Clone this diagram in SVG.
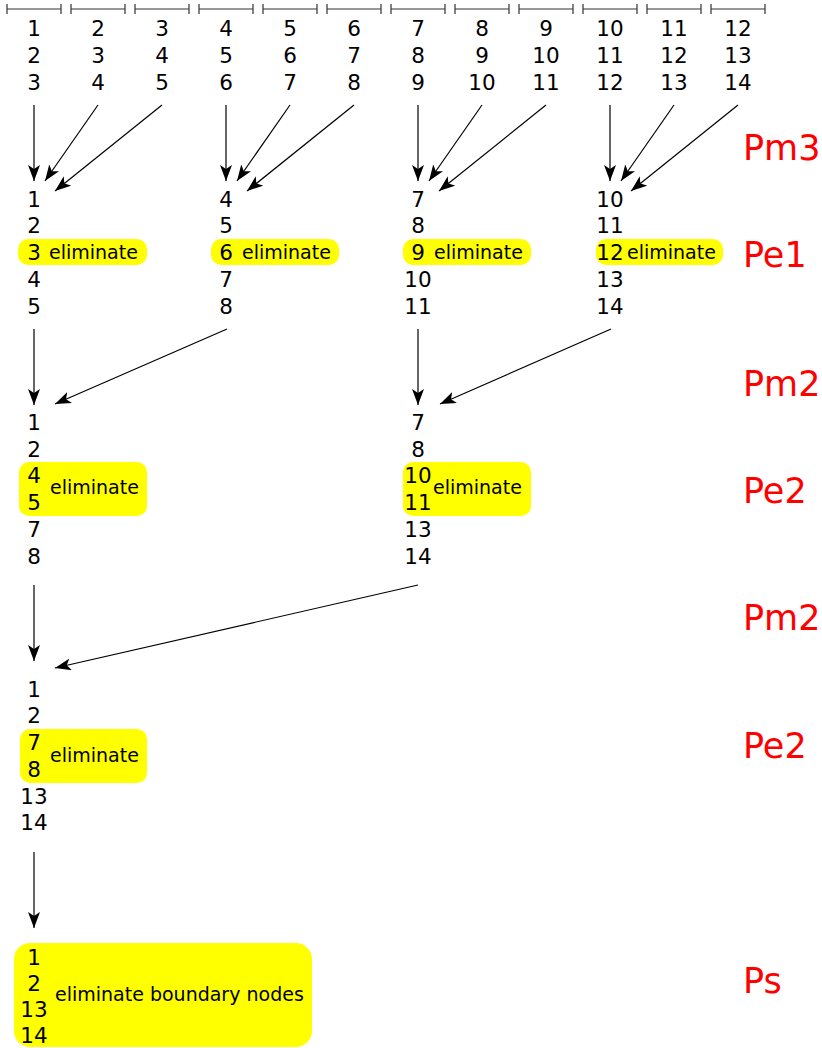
<svg xmlns="http://www.w3.org/2000/svg" width="822" height="1048" viewBox="0 0 822 1048">
<defs>
<style>
text{font-family:"DejaVu Sans","Verdana",sans-serif;fill:#000}
.n{font-size:21.5px;text-anchor:middle}
.e{font-size:19px}
.lab{font-size:35px;fill:#ff0000}
.hl{fill:#ffff00}
.iv{stroke:#333;stroke-width:1.2;fill:none}
.ar{stroke:#000;stroke-width:1.2;fill:none;marker-end:url(#ah)}
</style>
<marker id="ah" viewBox="0 0 16 12" refX="16" refY="6" markerWidth="16" markerHeight="12" markerUnits="userSpaceOnUse" orient="auto">
<path d="M0,0 L16,6 L0,12 L4,6 Z" fill="#000"/>
</marker>
</defs>
<rect width="822" height="1048" fill="#fff"/>

<g id="intervals">
<path class="iv" d="M7,9H61M7,4V14M61,4V14"/>
<path class="iv" d="M71,9H125M71,4V14M125,4V14"/>
<path class="iv" d="M135,9H189M135,4V14M189,4V14"/>
<path class="iv" d="M199,9H253M199,4V14M253,4V14"/>
<path class="iv" d="M263,9H317M263,4V14M317,4V14"/>
<path class="iv" d="M327,9H381M327,4V14M381,4V14"/>
<path class="iv" d="M391,9H445M391,4V14M445,4V14"/>
<path class="iv" d="M455,9H509M455,4V14M509,4V14"/>
<path class="iv" d="M519,9H573M519,4V14M573,4V14"/>
<path class="iv" d="M583,9H637M583,4V14M637,4V14"/>
<path class="iv" d="M647,9H701M647,4V14M701,4V14"/>
<path class="iv" d="M711,9H765M711,4V14M765,4V14"/>
</g>

<g id="top-columns">
<g id="col1"><text class="n" x="34" y="36">1</text><text class="n" x="34" y="63">2</text><text class="n" x="34" y="90">3</text></g>
<g id="col2"><text class="n" x="98" y="36">2</text><text class="n" x="98" y="63">3</text><text class="n" x="98" y="90">4</text></g>
<g id="col3"><text class="n" x="162" y="36">3</text><text class="n" x="162" y="63">4</text><text class="n" x="162" y="90">5</text></g>
<g id="col4"><text class="n" x="226" y="36">4</text><text class="n" x="226" y="63">5</text><text class="n" x="226" y="90">6</text></g>
<g id="col5"><text class="n" x="290" y="36">5</text><text class="n" x="290" y="63">6</text><text class="n" x="290" y="90">7</text></g>
<g id="col6"><text class="n" x="354" y="36">6</text><text class="n" x="354" y="63">7</text><text class="n" x="354" y="90">8</text></g>
<g id="col7"><text class="n" x="418" y="36">7</text><text class="n" x="418" y="63">8</text><text class="n" x="418" y="90">9</text></g>
<g id="col8"><text class="n" x="482" y="36">8</text><text class="n" x="482" y="63">9</text><text class="n" x="482" y="90">10</text></g>
<g id="col9"><text class="n" x="546" y="36">9</text><text class="n" x="546" y="63">10</text><text class="n" x="546" y="90">11</text></g>
<g id="col10"><text class="n" x="610" y="36">10</text><text class="n" x="610" y="63">11</text><text class="n" x="610" y="90">12</text></g>
<g id="col11"><text class="n" x="674" y="36">11</text><text class="n" x="674" y="63">12</text><text class="n" x="674" y="90">13</text></g>
<g id="col12"><text class="n" x="738" y="36">12</text><text class="n" x="738" y="63">13</text><text class="n" x="738" y="90">14</text></g>
</g>

<g id="connectors">
<line class="ar" x1="34" y1="105" x2="34" y2="181"/>
<line class="ar" x1="98" y1="105" x2="45" y2="181"/>
<line class="ar" x1="162" y1="105" x2="55" y2="191"/>
<line class="ar" x1="226" y1="105" x2="226" y2="181"/>
<line class="ar" x1="290" y1="105" x2="237" y2="181"/>
<line class="ar" x1="354" y1="105" x2="247" y2="191"/>
<line class="ar" x1="418" y1="105" x2="418" y2="181"/>
<line class="ar" x1="482" y1="105" x2="429" y2="181"/>
<line class="ar" x1="546" y1="105" x2="439" y2="191"/>
<line class="ar" x1="610" y1="105" x2="610" y2="181"/>
<line class="ar" x1="674" y1="105" x2="621" y2="181"/>
<line class="ar" x1="738" y1="105" x2="631" y2="191"/>
<line class="ar" x1="34" y1="329" x2="34" y2="405"/>
<line class="ar" x1="227" y1="329" x2="55" y2="404"/>
<line class="ar" x1="418" y1="329" x2="418" y2="405"/>
<line class="ar" x1="611" y1="329" x2="440" y2="404"/>
<line class="ar" x1="34" y1="585" x2="34" y2="661"/>
<line class="ar" x1="418" y1="585" x2="55" y2="668"/>
<line class="ar" x1="34" y1="852" x2="34" y2="928"/>
</g>

<g id="pe1-list1">
<rect class="hl" x="18" y="239" width="129" height="26" rx="10"/>
<text class="n" x="34" y="207">1</text><text class="n" x="34" y="233">2</text><text class="n" x="34" y="260">3</text><text class="n" x="34" y="287">4</text><text class="n" x="34" y="314">5</text>
<text class="e" x="49" y="259">eliminate</text>
</g>
<g id="pe1-list2">
<rect class="hl" x="211" y="239" width="128" height="26" rx="10"/>
<text class="n" x="226" y="207">4</text><text class="n" x="226" y="233">5</text><text class="n" x="226" y="260">6</text><text class="n" x="226" y="287">7</text><text class="n" x="226" y="314">8</text>
<text class="e" x="242" y="259">eliminate</text>
</g>
<g id="pe1-list3">
<rect class="hl" x="403" y="239" width="128" height="26" rx="10"/>
<text class="n" x="418" y="207">7</text><text class="n" x="418" y="233">8</text><text class="n" x="418" y="260">9</text><text class="n" x="418" y="287">10</text><text class="n" x="418" y="314">11</text>
<text class="e" x="434" y="259">eliminate</text>
</g>
<g id="pe1-list4">
<rect class="hl" x="596" y="239" width="127" height="26" rx="10"/>
<text class="n" x="610" y="207">10</text><text class="n" x="610" y="233">11</text><text class="n" x="610" y="260">12</text><text class="n" x="610" y="287">13</text><text class="n" x="610" y="314">14</text>
<text class="e" x="627" y="259">eliminate</text>
</g>

<g id="pe2-list1">
<rect class="hl" x="19" y="462" width="128" height="54" rx="10"/>
<text class="n" x="34" y="430">1</text><text class="n" x="34" y="457">2</text><text class="n" x="34" y="483">4</text><text class="n" x="34" y="510">5</text><text class="n" x="34" y="537">7</text><text class="n" x="34" y="564">8</text>
<text class="e" x="50" y="494">eliminate</text>
</g>
<g id="pe2-list2">
<rect class="hl" x="403" y="462" width="128" height="54" rx="10"/>
<text class="n" x="418" y="430">7</text><text class="n" x="418" y="457">8</text><text class="n" x="418" y="483">10</text><text class="n" x="418" y="510">11</text><text class="n" x="418" y="537">13</text><text class="n" x="418" y="564">14</text>
<text class="e" x="433" y="494">eliminate</text>
</g>

<g id="pe2b-list">
<rect class="hl" x="20" y="729" width="127" height="54" rx="10"/>
<text class="n" x="34" y="697">1</text><text class="n" x="34" y="723">2</text><text class="n" x="34" y="750">7</text><text class="n" x="34" y="777">8</text><text class="n" x="34" y="804">13</text><text class="n" x="34" y="830">14</text>
<text class="e" x="50" y="762">eliminate</text>
</g>

<g id="ps-box">
<rect class="hl" x="14" y="943" width="298" height="104" rx="16"/>
<text class="n" x="34" y="965">1</text><text class="n" x="34" y="991">2</text><text class="n" x="34" y="1017">13</text><text class="n" x="34" y="1043">14</text>
<text class="e" x="55" y="1001">eliminate boundary nodes</text>
</g>

<g id="labels">
<text class="lab" x="743" y="160">Pm3</text>
<text class="lab" x="743" y="267">Pe1</text>
<text class="lab" x="743" y="396">Pm2</text>
<text class="lab" x="743" y="503">Pe2</text>
<text class="lab" x="743" y="630">Pm2</text>
<text class="lab" x="743" y="758">Pe2</text>
<text class="lab" x="743" y="993">Ps</text>
</g>
</svg>
